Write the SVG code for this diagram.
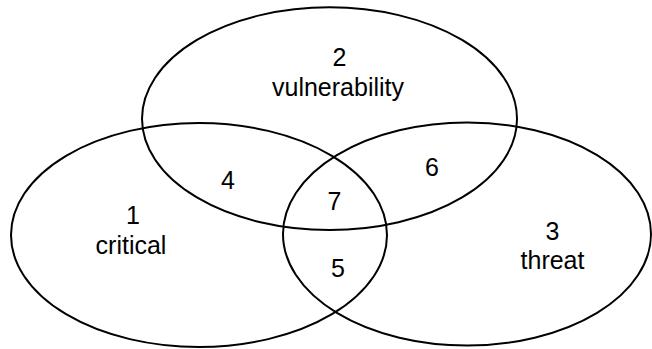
<svg xmlns="http://www.w3.org/2000/svg" width="652" height="349" viewBox="0 0 652 349">
<style>
.set{fill:none;stroke:#000;stroke-width:2}
.lbl{font-family:"Liberation Sans",Arial,sans-serif;font-size:25px;fill:#000;text-anchor:middle}
</style>
<rect width="652" height="349" fill="#fff"/>
<g id="set-critical">
<ellipse class="set" cx="199" cy="235" rx="188" ry="112"/>
<text class="lbl" x="133" y="224">1</text>
<text class="lbl" x="131" y="254">critical</text>
</g>
<g id="set-vulnerability">
<ellipse class="set" cx="329.5" cy="118.7" rx="187.5" ry="111.4"/>
<text class="lbl" x="339.5" y="66">2</text>
<text class="lbl" x="338" y="96">vulnerability</text>
</g>
<g id="set-threat">
<ellipse class="set" cx="467" cy="234" rx="184" ry="111.5"/>
<text class="lbl" x="552.5" y="240">3</text>
<text class="lbl" x="552.5" y="269">threat</text>
</g>
<g id="region-4"><text class="lbl" x="228" y="189">4</text></g>
<g id="region-5"><text class="lbl" x="338" y="277">5</text></g>
<g id="region-6"><text class="lbl" x="432" y="176">6</text></g>
<g id="region-7"><text class="lbl" x="334.5" y="210">7</text></g>
</svg>
